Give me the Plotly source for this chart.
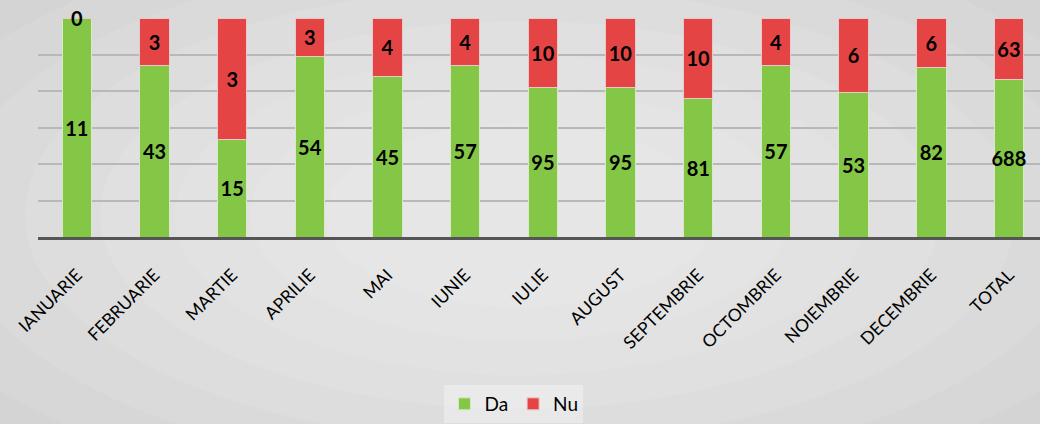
import plotly.graph_objects as go

categories = ["IANUARIE", "FEBRUARIE", "MARTIE", "APRILIE", "MAI", "IUNIE", "IULIE",
              "AUGUST", "SEPTEMBRIE", "OCTOMBRIE", "NOIEMBRIE", "DECEMBRIE", "TOTAL"]
da_counts = [11, 43, 15, 54, 45, 57, 95, 95, 81, 57, 53, 82, 688]
nu_counts = [0, 3, 3, 3, 4, 4, 10, 10, 10, 4, 6, 6, 63]
# segment heights as share of the 100% bar
da_pct = [100, 78.2, 44.3, 82.6, 73.1, 78.2, 68.4, 68.4, 63.3, 78.2, 66.2, 77.5, 72.1]
nu_pct = [0, 21.8, 55.7, 17.4, 26.9, 21.8, 31.6, 31.6, 36.7, 21.8, 33.8, 22.5, 27.9]

W, H = 1040, 424
L, R, T, B = 38, 0, 18, 187
PW, PH = W - L - R, H - T - B

def px_x(px):
    return (px - L) / PW

def px_y(py):
    return (H - B - py) / PH

FONT = "Lato, 'Open Sans', sans-serif"

fig = go.Figure()
fig.add_trace(go.Bar(
    name="Da", x=categories, y=da_pct,
    text=[str(v) for v in da_counts],
    textposition="inside", insidetextanchor="middle", textangle=0,
    textfont=dict(size=20, color="black", family=FONT, weight="bold"),
    marker=dict(color="#84c747", line=dict(color="#d8e8c8", width=1)),
    hoverinfo="skip",
))
fig.add_trace(go.Bar(
    name="Nu", x=categories, y=nu_pct,
    text=[str(v) if p > 0 else "" for v, p in zip(nu_counts, nu_pct)],
    textposition="inside", insidetextanchor="middle", textangle=0,
    textfont=dict(size=20, color="black", family=FONT, weight="bold"),
    marker=dict(color="#e54444", line=dict(color="#e8c8c8", width=1)),
    hoverinfo="skip",
))

annotations = []
for c, d, n, cnt in zip(categories, da_pct, nu_pct, nu_counts):
    if n == 0:
        annotations.append(dict(x=c, y=d + n, text=f"<b>{cnt}</b>", showarrow=False,
                                yanchor="middle", xanchor="center",
                                font=dict(size=20, color="black", family=FONT)))

# soft radial background
shapes = []
cx, cy = 520, 215
for i in range(8):
    rx = 720 - i * 75
    ry = 330 - i * 34
    shapes.append(dict(type="circle", xref="paper", yref="paper", layer="below",
                       x0=px_x(cx - rx), x1=px_x(cx + rx), y0=px_y(cy + ry), y1=px_y(cy - ry),
                       fillcolor="rgba(255,255,255,0.09)", line=dict(width=0)))

fig.update_layout(
    width=W, height=H,
    margin=dict(l=L, r=R, t=T, b=B),
    barmode="stack", bargap=0.62,
    paper_bgcolor="#d0d0d0", plot_bgcolor="rgba(0,0,0,0)",
    uniformtext=dict(mode="show", minsize=20),
    showlegend=True,
    legend=dict(orientation="h", x=0.475, xanchor="center", y=px_y(404), yanchor="middle",
                bgcolor="rgba(240,240,240,0.6)", font=dict(size=19, family=FONT, color="black"),
                itemwidth=30, traceorder="normal"),
    annotations=annotations,
    shapes=shapes,
    font=dict(family=FONT),
)
fig.update_xaxes(range=[-0.5, 12.4], tickangle=-45, tickfont=dict(size=17.5, color="black", family=FONT),
                 showline=True, linecolor="#555555", linewidth=3, ticks="", showgrid=False,
                 ticklabelstandoff=18)
fig.update_yaxes(range=[0, 100], dtick=100 / 6, showticklabels=False, gridcolor="#b8b8b8",
                 gridwidth=1.5, zeroline=False, showline=False)

fig.write_html("out.html", config={"displayModeBar": False},
               post_script="document.body.style.margin='0';document.body.style.overflow='hidden';")
